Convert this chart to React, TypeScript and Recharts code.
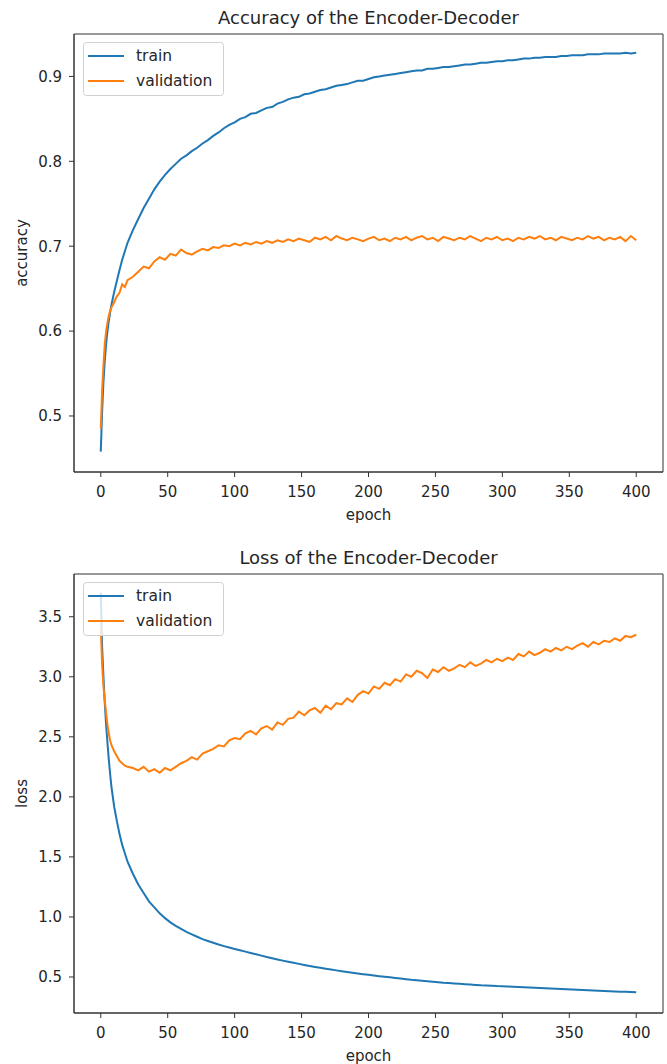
import React from "react";
import { LineChart, Line, XAxis, YAxis, ReferenceArea } from "recharts";

// epochs sampled: dense at the start, then every 4 epochs
const EPOCHS = [
  0, 1, 2, 3, 4, 5, 6, 7, 8, 10, 12, 14, 16, 18, 20,
  24, 28, 32, 36, 40, 44, 48, 52, 56, 60,
  64, 68, 72, 76, 80, 84, 88, 92, 96, 100,
  104, 108, 112, 116, 120, 124, 128, 132, 136, 140,
  144, 148, 152, 156, 160, 164, 168, 172, 176, 180,
  184, 188, 192, 196, 200, 204, 208, 212, 216, 220,
  224, 228, 232, 236, 240, 244, 248, 252, 256, 260,
  264, 268, 272, 276, 280, 284, 288, 292, 296, 300,
  304, 308, 312, 316, 320, 324, 328, 332, 336, 340,
  344, 348, 352, 356, 360, 364, 368, 372, 376, 380,
  384, 388, 392, 396, 400,
];

const ACC_TRAIN = [
  0.458, 0.505, 0.540, 0.565, 0.585, 0.600, 0.612, 0.622, 0.631, 0.646, 0.659, 0.672, 0.684, 0.694, 0.704,
  0.719, 0.732, 0.745, 0.756, 0.767, 0.776, 0.784, 0.791, 0.797, 0.803,
  0.807, 0.812, 0.816, 0.821, 0.825, 0.830, 0.834, 0.839, 0.843, 0.846,
  0.850, 0.852, 0.856, 0.857, 0.860, 0.863, 0.864, 0.868, 0.870, 0.873,
  0.875, 0.876, 0.879, 0.880, 0.882, 0.884, 0.885, 0.887, 0.889, 0.890,
  0.891, 0.893, 0.895, 0.895, 0.897, 0.899, 0.900, 0.901, 0.902, 0.903,
  0.904, 0.905, 0.906, 0.907, 0.907, 0.909, 0.909, 0.910, 0.911, 0.911,
  0.912, 0.913, 0.914, 0.914, 0.915, 0.916, 0.916, 0.917, 0.918, 0.918,
  0.919, 0.919, 0.920, 0.921, 0.921, 0.922, 0.922, 0.923, 0.923, 0.923,
  0.924, 0.924, 0.925, 0.925, 0.925, 0.926, 0.926, 0.926, 0.927, 0.927,
  0.927, 0.927, 0.928, 0.927, 0.928,
];

const ACC_VAL = [
  0.485, 0.530, 0.560, 0.585, 0.600, 0.610, 0.618, 0.624, 0.628, 0.634, 0.641, 0.645, 0.655, 0.652, 0.660,
  0.664, 0.670, 0.676, 0.674, 0.682, 0.687, 0.684, 0.691, 0.689, 0.696,
  0.692, 0.690, 0.694, 0.697, 0.695, 0.699, 0.698, 0.701, 0.700, 0.703,
  0.701, 0.704, 0.702, 0.705, 0.703, 0.706, 0.704, 0.707, 0.705, 0.708,
  0.706, 0.709, 0.707, 0.705, 0.710, 0.708, 0.711, 0.707, 0.712, 0.709,
  0.707, 0.710, 0.708, 0.706, 0.709, 0.711, 0.707, 0.709, 0.706, 0.710,
  0.708, 0.711, 0.707, 0.710, 0.712, 0.708, 0.710, 0.706, 0.711, 0.709,
  0.707, 0.710, 0.708, 0.712, 0.709, 0.706, 0.710, 0.708, 0.711, 0.707,
  0.709, 0.706, 0.710, 0.708, 0.711, 0.709, 0.712, 0.708, 0.710, 0.707,
  0.711, 0.709, 0.707, 0.710, 0.708, 0.712, 0.709, 0.711, 0.707, 0.710,
  0.708, 0.711, 0.706, 0.712, 0.707,
];

const LOSS_TRAIN = [
  3.70, 3.25, 3.00, 2.78, 2.60, 2.45, 2.31, 2.19, 2.08, 1.92, 1.80, 1.69, 1.60, 1.53, 1.46,
  1.36, 1.27, 1.20, 1.13, 1.08, 1.03, 0.99, 0.955, 0.925, 0.90,
  0.875, 0.855, 0.835, 0.815, 0.80, 0.785, 0.77, 0.757, 0.745, 0.733,
  0.722, 0.711, 0.700, 0.689, 0.678, 0.667, 0.656, 0.646, 0.636, 0.627,
  0.618, 0.609, 0.600, 0.592, 0.584, 0.576, 0.569, 0.562, 0.555, 0.548,
  0.541, 0.535, 0.529, 0.523, 0.518, 0.513, 0.507, 0.502, 0.497, 0.492,
  0.487, 0.482, 0.477, 0.473, 0.468, 0.464, 0.460, 0.456, 0.452, 0.449,
  0.446, 0.443, 0.440, 0.437, 0.434, 0.431, 0.429, 0.427, 0.424, 0.422,
  0.420, 0.418, 0.416, 0.414, 0.412, 0.410, 0.408, 0.406, 0.404, 0.402,
  0.400, 0.398, 0.396, 0.394, 0.392, 0.390, 0.388, 0.386, 0.384, 0.382,
  0.380, 0.378, 0.377, 0.375, 0.373,
];

const LOSS_VAL = [
  3.41, 3.10, 2.92, 2.80, 2.70, 2.60, 2.53, 2.47, 2.43, 2.38, 2.34, 2.30, 2.28, 2.26, 2.25,
  2.24, 2.22, 2.25, 2.21, 2.23, 2.20, 2.24, 2.22, 2.25, 2.28,
  2.30, 2.33, 2.31, 2.36, 2.38, 2.40, 2.43, 2.42, 2.47, 2.49,
  2.48, 2.53, 2.55, 2.52, 2.57, 2.59, 2.56, 2.62, 2.60, 2.65,
  2.66, 2.71, 2.68, 2.72, 2.74, 2.70, 2.76, 2.73, 2.78, 2.77,
  2.82, 2.79, 2.85, 2.88, 2.86, 2.92, 2.90, 2.95, 2.93, 2.98,
  2.96, 3.02, 3.00, 3.05, 3.03, 2.99, 3.06, 3.04, 3.08, 3.05,
  3.07, 3.10, 3.08, 3.12, 3.09, 3.11, 3.14, 3.12, 3.15, 3.13,
  3.16, 3.14, 3.19, 3.17, 3.21, 3.18, 3.20, 3.23, 3.21, 3.24,
  3.22, 3.25, 3.23, 3.26, 3.28, 3.25, 3.29, 3.27, 3.30, 3.29,
  3.32, 3.30, 3.34, 3.33, 3.35,
];

const EPOCH_TICKS = [0, 50, 100, 150, 200, 250, 300, 350, 400];
const ACC_TICKS = [0.5, 0.6, 0.7, 0.8, 0.9];
const LOSS_TICKS = [0.5, 1.0, 1.5, 2.0, 2.5, 3.0, 3.5];
const SERIES = ["train", "validation"];

const BLUE = "#1f77b4";
const ORANGE = "#ff7f0e";
const FONT = "'DejaVu Sans', sans-serif";
const INK = "#262626";
const W = 667;
const X_DOMAIN: [number, number] = [-20, 420];

const tickStyle = { fill: INK, fontSize: 15, fontFamily: FONT };

// matplotlib-like legend box in the upper left corner
const LegendBox = () => (
  <svg
    width={142}
    height={55}
    style={{ position: "absolute", left: 83, top: 42, overflow: "visible" }}
  >
    <rect x={0.5} y={0.5} width={140} height={53} rx={3} fill="rgba(255,255,255,0.8)" stroke="#d0d0d0" />
    {SERIES.map((name, i) => (
      <g key={name}>
        <line x1={5} x2={41} y1={14 + i * 25} y2={14 + i * 25} stroke={i === 0 ? BLUE : ORANGE} strokeWidth={2} />
        <text x={53} y={14 + i * 25} dy="0.35em" fontFamily={FONT} fontSize={15.5} fill={INK}>
          {name}
        </text>
      </g>
    ))}
  </svg>
);

interface PanelProps {
  top: number;
  height: number;
  plotHeight: number;
  title: string;
  yLabel: string;
  train: number[];
  val: number[];
  yDomain: [number, number];
  yTicks: number[];
}

const Panel: React.FC<PanelProps> = ({ top, height, plotHeight, title, yLabel, train, val, yDomain, yTicks }) => {
  const data = EPOCHS.map((e, i) => ({ epoch: e, train: train[i], validation: val[i] }));

  return (
    <div style={{ position: "absolute", left: 0, top, width: W, height }}>
      <svg width={W} height={34} style={{ position: "absolute", left: 0, top: 0 }}>
        <text x={368.5} y={24} textAnchor="middle" fontFamily={FONT} fontSize={18} fill={INK}>
          {title}
        </text>
      </svg>
      <LineChart width={W} height={height} data={data} margin={{ top: 34, right: 4, bottom: 0, left: 0 }}>
        <XAxis
          dataKey="epoch"
          type="number"
          domain={X_DOMAIN}
          ticks={EPOCH_TICKS}
          allowDataOverflow
          height={height - 34 - plotHeight}
          tick={tickStyle}
          tickSize={5}
          tickMargin={9}
          tickLine={{ stroke: "#333" }}
          axisLine={{ stroke: "#333", strokeWidth: 1 }}
          label={(p: any) => {
            const vb = p.viewBox || { x: 74, y: 34 + plotHeight, width: 589 };
            return (
              <text x={vb.x + vb.width / 2} y={vb.y + 48} textAnchor="middle" fontFamily={FONT} fontSize={15} fill={INK}>
                epoch
              </text>
            );
          }}
        />
        <YAxis
          type="number"
          domain={yDomain}
          ticks={yTicks}
          allowDataOverflow
          width={74}
          tick={tickStyle}
          tickFormatter={(v: number) => v.toFixed(1)}
          tickSize={5}
          tickMargin={7}
          tickLine={{ stroke: "#333" }}
          axisLine={{ stroke: "#333", strokeWidth: 1 }}
          label={(p: any) => {
            const vb = p.viewBox || { x: 0, y: 34, width: 74, height: plotHeight };
            const cy = vb.y + vb.height / 2;
            return (
              <text
                x={22}
                y={cy}
                transform={`rotate(-90 22 ${cy})`}
                textAnchor="middle"
                dominantBaseline="central"
                fontFamily={FONT}
                fontSize={15}
                fill={INK}
              >
                {yLabel}
              </text>
            );
          }}
        />
        {/* full axes frame like matplotlib spines */}
        <ReferenceArea
          x1={X_DOMAIN[0]}
          x2={X_DOMAIN[1]}
          y1={yDomain[0]}
          y2={yDomain[1]}
          fill="none"
          fillOpacity={0}
          stroke="#333"
          strokeWidth={1}
          ifOverflow="visible"
        />
        <Line type="linear" dataKey="train" stroke={BLUE} strokeWidth={2} dot={false} isAnimationActive={false} />
        <Line type="linear" dataKey="validation" stroke={ORANGE} strokeWidth={2} dot={false} isAnimationActive={false} />
      </LineChart>
      <LegendBox />
    </div>
  );
};

export default function App() {
  return (
    <div style={{ position: "absolute", left: 0, top: 0, width: W, height: 1064, background: "#fff", fontFamily: FONT }}>
      <Panel
        top={0}
        height={530}
        plotHeight={438}
        title="Accuracy of the Encoder-Decoder"
        yLabel="accuracy"
        train={ACC_TRAIN}
        val={ACC_VAL}
        yDomain={[0.434, 0.95]}
        yTicks={ACC_TICKS}
      />
      <Panel
        top={540}
        height={524}
        plotHeight={439}
        title="Loss of the Encoder-Decoder"
        yLabel="loss"
        train={LOSS_TRAIN}
        val={LOSS_VAL}
        yDomain={[0.2, 3.856]}
        yTicks={LOSS_TICKS}
      />
    </div>
  );
}
